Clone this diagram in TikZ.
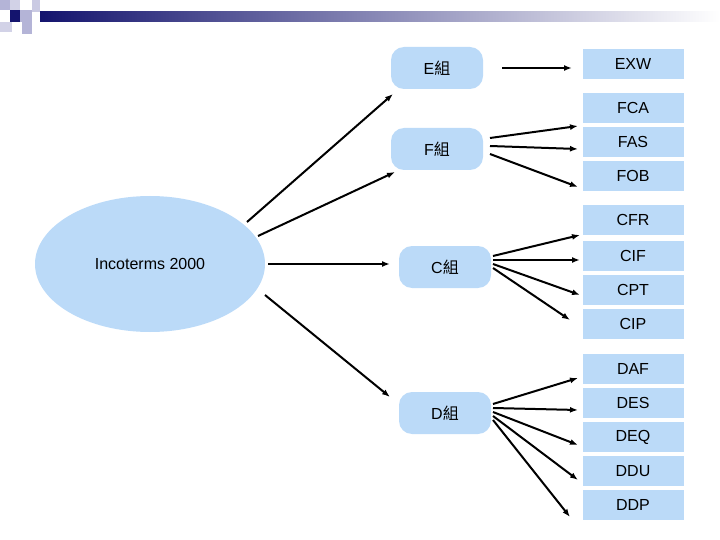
\documentclass[tikz,border=0pt]{standalone}
\usepackage{fontspec}
\usetikzlibrary{shapes.geometric,arrows.meta}
\setmainfont{Liberation Sans}
\newfontfamily\cjk{Noto Sans CJK TC}
\definecolor{lb}{RGB}{187,218,248}
\definecolor{navy}{RGB}{20,20,110}
\definecolor{sq}{RGB}{180,180,215}
\begin{document}
\begin{tikzpicture}[x=1pt,y=-1pt,
  grp/.style={fill=lb,rounded corners=13pt,minimum width=92pt,minimum height=42pt,font=\fontsize{16}{18}\selectfont},
  bx/.style={fill=lb,minimum width=101pt,minimum height=30pt,font=\fontsize{16}{18}\selectfont},
  ar/.style={-{Latex[length=8pt,width=6pt]},line width=2pt}]
\useasboundingbox (0,0) rectangle (720,540);
% header
\shade[left color=navy,right color=white] (40,12) rectangle (720,22);
\fill[sq] (0,0) rectangle (10,10);
\fill[sq!60] (10,0) rectangle (20,10);
\fill[navy] (10,10) rectangle (20,22);
\fill[sq] (20,10) rectangle (32,22);
\fill[sq!60] (0,22) rectangle (12,32);
\fill[sq] (22,22) rectangle (32,34);
\fill[sq!70] (32,0) rectangle (40,12);
\node[fill=lb,ellipse,minimum width=230pt,minimum height=136pt,font=\fontsize{16}{18}\selectfont] (inc) at (150,264) {Incoterms 2000};
\node[grp] (E) at (437,68) {E{\cjk 組}};
\node[grp] (F) at (437,149) {F{\cjk 組}};
\node[grp] (C) at (445,267) {C{\cjk 組}};
\node[grp] (D) at (445,413) {D{\cjk 組}};
\foreach \n/\y in {EXW/64,FCA/108,FAS/142,FOB/176,CFR/220,CIF/256,CPT/290,CIP/324,DAF/369,DES/403,DEQ/437,DDU/471,DDP/505}
  \node[bx] (\n) at (633,\y) {\n};
\coordinate (a1) at (247,222); \coordinate (b1) at (393,94);
\coordinate (a2) at (258,236); \coordinate (b2) at (395,172);
\coordinate (a3) at (268,264); \coordinate (b3) at (390,264);
\coordinate (a4) at (265,295); \coordinate (b4) at (390,397);
\draw[ar] (a1) -- (b1);
\draw[ar] (a2) -- (b2);
\draw[ar] (a3) -- (b3);
\draw[ar] (a4) -- (b4);
\coordinate (e0) at (502,68); \coordinate (e1) at (572,68);
\draw[ar] (e0) -- (e1);
\coordinate (f1) at (490,138); \coordinate (f2) at (490,146); \coordinate (f3) at (490,154);
\coordinate (tFCA) at (578,126); \coordinate (tFAS) at (578,149); \coordinate (tFOB) at (578,187);
\draw[ar] (f1) -- (tFCA); \draw[ar] (f2) -- (tFAS); \draw[ar] (f3) -- (tFOB);
\coordinate (c1) at (493,256); \coordinate (c2) at (493,260); \coordinate (c3) at (493,264); \coordinate (c4) at (493,268);
\coordinate (tCFR) at (580,235); \coordinate (tCIF) at (580,260); \coordinate (tCPT) at (580,295); \coordinate (tCIP) at (570,320);
\draw[ar] (c1) -- (tCFR); \draw[ar] (c2) -- (tCIF); \draw[ar] (c3) -- (tCPT); \draw[ar] (c4) -- (tCIP);
\coordinate (d1) at (493,404); \coordinate (d2) at (493,408); \coordinate (d3) at (493,412); \coordinate (d4) at (493,416); \coordinate (d5) at (493,420);
\coordinate (tDAF) at (578,378); \coordinate (tDES) at (578,410); \coordinate (tDEQ) at (578,445); \coordinate (tDDU) at (578,480); \coordinate (tDDP) at (570,517);
\draw[ar] (d1) -- (tDAF); \draw[ar] (d2) -- (tDES); \draw[ar] (d3) -- (tDEQ); \draw[ar] (d4) -- (tDDU); \draw[ar] (d5) -- (tDDP);
\end{tikzpicture}
\end{document}
